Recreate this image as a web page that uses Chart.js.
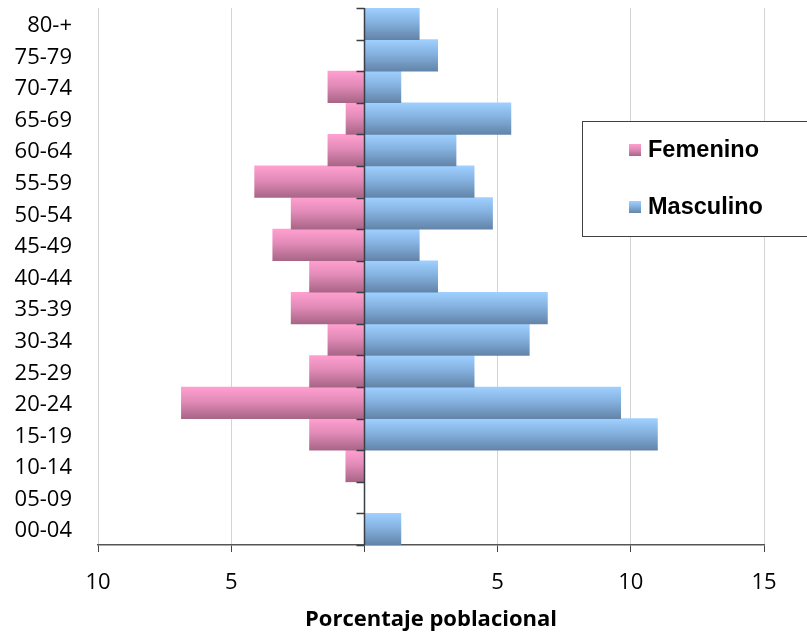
<!DOCTYPE html>
<html>
<head>
<meta charset="utf-8">
<script src="https://cdn.jsdelivr.net/npm/chart.js@4/dist/chart.umd.min.js"></script>
<style>
  html, body { margin: 0; padding: 0; background: #fff; }
  #wrap { width: 807px; height: 634px; }
</style>
</head>
<body>
<div id="wrap"><canvas id="c" width="807" height="634"></canvas></div>
<script>
// Age groups, bottom to top
const ageGroups = ['00-04','05-09','10-14','15-19','20-24','25-29','30-34','35-39','40-44','45-49','50-54','55-59','60-64','65-69','70-74','75-79','80-+'];
// Percent of population by sex (same order as ageGroups)
const femenino  = [0, 0, 0.69, 2.06, 6.87, 2.06, 1.37, 2.75, 2.06, 3.44, 2.75, 4.12, 1.37, 0.69, 1.37, 0, 0];
const masculino = [1.37, 0, 0, 11.0, 9.62, 4.12, 6.19, 6.87, 2.75, 2.06, 4.81, 4.12, 3.44, 5.5, 1.37, 2.75, 2.06];
const xTicks = [-10, -5, 0, 5, 10, 15];
const seriesNames = ['Femenino', 'Masculino'];

const pinkStops = ['#ff9fd0', '#e28bb8', '#a86586'];
const blueStops = ['#9fd0ff', '#85b2e0', '#6384a8'];

function barGradient(ctx, top, bottom, stops) {
  const g = ctx.createLinearGradient(0, top, 0, bottom);
  g.addColorStop(0, stops[0]);
  g.addColorStop(0.45, stops[1]);
  g.addColorStop(1, stops[2]);
  return g;
}

function scriptedFill(stops) {
  return function (context) {
    const chart = context.chart;
    const y = chart.scales.y;
    if (!chart.chartArea || !y || context.dataIndex === undefined) return stops[1];
    const c = y.getPixelForValue(context.dataIndex);
    const half = Math.abs(y.getPixelForValue(1) - y.getPixelForValue(0)) / 2;
    return barGradient(chart.ctx, c - half, c + half, stops);
  };
}

// Centre axis at zero with tick marks at every age-group boundary
const centreAxis = {
  id: 'centreAxis',
  afterDatasetsDraw(chart) {
    const { ctx, scales: { x, y } } = chart;
    const x0 = Math.round(x.getPixelForValue(0)) + 0.5;
    ctx.save();
    ctx.strokeStyle = '#3a3f47';
    ctx.lineWidth = 1.5;
    ctx.beginPath();
    ctx.moveTo(x0, chart.chartArea.top);
    ctx.lineTo(x0, chart.chartArea.bottom);
    ctx.stroke();
    for (let i = 0; i <= ageGroups.length; i++) {
      const yy = Math.round(y.getPixelForValue(i - 0.5)) + 0.5;
      ctx.beginPath();
      ctx.moveTo(x0 - 8, yy);
      ctx.lineTo(x0, yy);
      ctx.stroke();
    }
    ctx.restore();
  }
};

// Boxed legend drawn over the plot
const boxLegend = {
  id: 'boxLegend',
  afterDraw(chart) {
    const ctx = chart.ctx;
    ctx.save();
    ctx.fillStyle = '#ffffff';
    ctx.fillRect(582.5, 121.5, 240, 115);
    ctx.strokeStyle = '#404040';
    ctx.lineWidth = 1;
    ctx.strokeRect(582.5, 121.5, 240, 115);
    const rows = [
      { label: seriesNames[0], stops: pinkStops, cy: 150 },
      { label: seriesNames[1], stops: blueStops, cy: 207 }
    ];
    ctx.font = 'bold 23.5px "Liberation Sans", Arial, sans-serif';
    ctx.textBaseline = 'middle';
    ctx.textAlign = 'left';
    rows.forEach(r => {
      ctx.fillStyle = barGradient(ctx, r.cy - 6, r.cy + 6, r.stops);
      ctx.fillRect(629, r.cy - 6, 12, 12);
      ctx.fillStyle = '#000000';
      ctx.fillText(r.label, 648, r.cy + 1);
    });
    ctx.restore();
  }
};

new Chart(document.getElementById('c'), {
  type: 'bar',
  data: {
    labels: ageGroups,
    datasets: [
      { label: seriesNames[0], data: femenino.map(v => -v), backgroundColor: scriptedFill(pinkStops), borderWidth: 0 },
      { label: seriesNames[1], data: masculino, backgroundColor: scriptedFill(blueStops), borderWidth: 0 }
    ]
  },
  options: {
    indexAxis: 'y',
    responsive: false,
    animation: false,
    devicePixelRatio: 1,
    layout: { padding: { top: 8, right: 43, left: 0, bottom: 0 } },
    datasets: { bar: { barPercentage: 1, categoryPercentage: 1 } },
    plugins: { legend: { display: false }, tooltip: { enabled: false } },
    scales: {
      x: {
        stacked: true,
        min: -10,
        max: 15,
        afterBuildTicks(axis) { axis.ticks = xTicks.map(v => ({ value: v })); },
        afterFit(axis) { axis.height = 89; },
        border: { display: true, color: '#555555', width: 1.5 },
        grid: {
          color: ctx => (ctx.tick && ctx.tick.value === 0) ? 'rgba(0,0,0,0)' : '#d4d4d4',
          tickColor: '#444444',
          tickLength: 7,
          lineWidth: 1
        },
        ticks: {
          font: { family: '"Open Sans", sans-serif', size: 22 },
          color: '#000000',
          padding: 18,
          maxRotation: 0,
          callback: v => v === 0 ? '' : String(Math.abs(v))
        },
        title: {
          display: true,
          text: 'Porcentaje poblacional',
          color: '#000000',
          font: { family: '"Open Sans", sans-serif', size: 22, weight: 'bold' },
          padding: { top: 0, bottom: 1 }
        }
      },
      y: {
        stacked: true,
        reverse: true,
        afterFit(axis) { axis.width = 98; },
        border: { display: false },
        grid: {
          display: true,
          drawOnChartArea: false,
          color: 'rgba(0,0,0,0)',
          tickColor: 'rgba(0,0,0,0)',
          tickLength: 26
        },
        ticks: {
          font: { family: '"Open Sans", sans-serif', size: 22, lineHeight: 0.4 },
          color: '#000000',
          padding: 0,
          labelOffset: 2,
          autoSkip: false
        }
      }
    }
  },
  plugins: [centreAxis, boxLegend]
});
</script>
</body>
</html>
